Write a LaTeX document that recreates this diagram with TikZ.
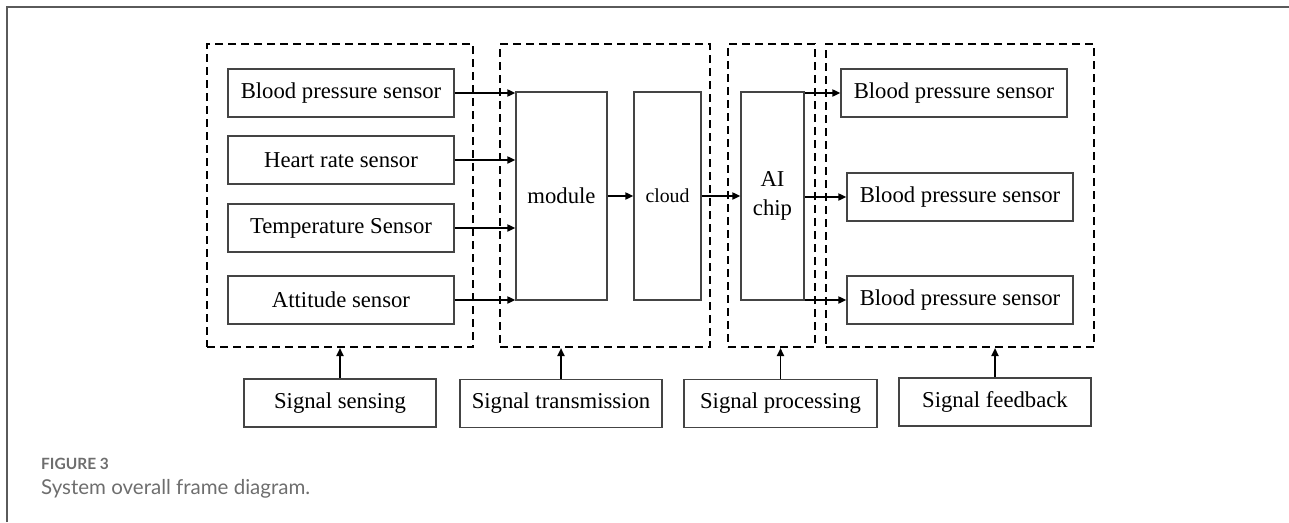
\documentclass[tikz,border=0pt]{standalone}
\usepackage{fontspec}
\setmainfont{Liberation Serif}
\newfontfamily\capfont{Lato}
\usetikzlibrary{arrows.meta}
\definecolor{boxline}{HTML}{444444}
\definecolor{capgrey}{HTML}{6E6E6E}
\definecolor{framegrey}{HTML}{5A5A5A}
\tikzset{
  box/.style={draw=boxline, line width=1.3pt, rectangle, inner sep=0pt, align=center, font=\fontsize{22.7}{25}\selectfont},
  group/.style={draw=black, line width=2pt, dash pattern=on 8pt off 5pt, rectangle, inner sep=0pt},
  link/.style={draw=black, line width=1.9pt, -{Triangle[length=8pt,width=7pt]}},
}
\begin{document}
\begin{tikzpicture}[x=1pt,y=-1pt]
\useasboundingbox (0,0) rectangle (1289,522);
% card frame
\draw[framegrey, line width=1.6pt] (7,522) -- (7,7) -- (1289,7);

% dashed groups
\node[group, minimum width=266pt, minimum height=303pt] (gsense) at (340,195.5) {};
\node[group, minimum width=210pt, minimum height=303pt] (gtrans) at (605,195.5) {};
\node[group, minimum width=87pt, minimum height=303pt] (gproc) at (771.5,195.5) {};
\node[group, minimum width=268pt, minimum height=303pt] (gfeed) at (960,195.5) {};

% sensors
\node[box, minimum width=226pt, minimum height=48pt] (s1) at (341,93) {Blood pressure sensor};
\node[box, minimum width=226pt, minimum height=48pt] (s2) at (341,160) {Heart rate sensor};
\node[box, minimum width=226pt, minimum height=48pt] (s3) at (341,228) {Temperature Sensor};
\node[box, minimum width=226pt, minimum height=48pt] (s4) at (341,300) {Attitude sensor};

% transmission
\node[box, minimum width=91pt, minimum height=208pt] (module) at (561.5,196) {module};
\node[box, minimum width=67pt, minimum height=208pt, font=\fontsize{19.8}{22}\selectfont] (cloud) at (667.5,196) {cloud};

% processing
\node[box, minimum width=63pt, minimum height=208pt, font=\fontsize{22.7}{28.5}\selectfont] (ai) at (772.5,196) {AI\\chip};

% feedback
\node[box, minimum width=226pt, minimum height=48pt] (f1) at (954,93) {Blood pressure sensor};
\node[box, minimum width=226pt, minimum height=48pt] (f2) at (960,197) {Blood pressure sensor};
\node[box, minimum width=226pt, minimum height=48pt] (f3) at (960,300) {Blood pressure sensor};

% bottom labels
\node[box, minimum width=192pt, minimum height=48pt] (lsense) at (340,403) {Signal sensing};
\node[box, minimum width=202pt, minimum height=48pt] (ltrans) at (561,403.5) {Signal transmission};
\node[box, minimum width=193pt, minimum height=48pt] (lproc) at (780.5,403.5) {Signal processing};
\node[box, minimum width=192pt, minimum height=48pt] (lfeed) at (995,402) {Signal feedback};

% connectors
\draw[link] (s1.east) -- (module.west |- s1.east);
\draw[link] (s2.east) -- (module.west |- s2.east);
\draw[link] (s3.east) -- (module.west |- s3.east);
\draw[link] (s4.east) -- (module.west |- s4.east);
\draw[link] (module.east) -- (cloud.west);
\draw[link] (cloud.east) -- (ai.west);
\draw[link] (ai.east |- f1.west) -- (f1.west);
\draw[link] (ai.east |- f2.west) -- (f2.west);
\draw[link] (ai.east |- f3.west) -- (f3.west);

\draw[link] (lsense.north) -- (lsense.north |- gsense.south);
\draw[link] (ltrans.north) -- (ltrans.north |- gtrans.south);
\draw[link] (lproc.north) -- (lproc.north |- gproc.south);
\draw[link] (lfeed.north) -- (lfeed.north |- gfeed.south);

% caption
\node[anchor=base west, inner sep=0pt, text=capgrey, font=\capfont\fontsize{15.5}{18}\selectfont\bfseries] (figno) at (41,469) {FIGURE 3};
\node[anchor=base west, inner sep=0pt, text=capgrey, font=\capfont\fontsize{20.5}{24}\selectfont] (captext) at (41,494) {System overall frame diagram.};
\end{tikzpicture}
\end{document}
